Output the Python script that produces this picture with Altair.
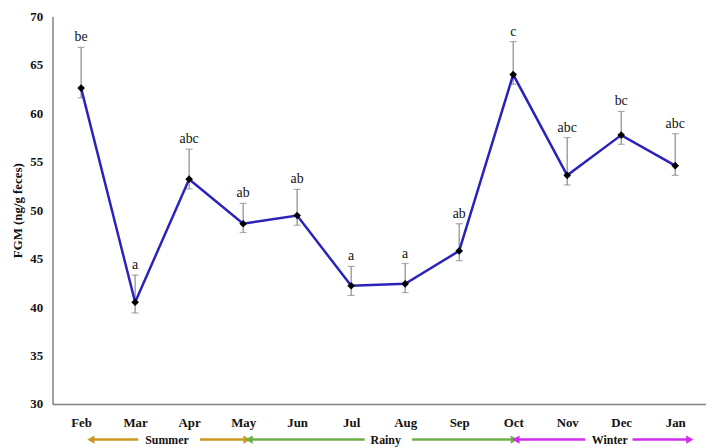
import altair as alt
import pandas as pd

months = ["Feb", "Mar", "Apr", "May", "Jun", "Jul", "Aug", "Sep", "Oct", "Nov", "Dec", "Jan"]
fgm_mean = [62.6, 40.5, 53.2, 48.6, 49.45, 42.2, 42.4, 45.8, 64.0, 53.6, 57.75, 54.6]
err_upper = [66.8, 43.3, 56.3, 50.7, 52.15, 44.2, 44.5, 48.6, 67.4, 57.5, 60.2, 57.9]
err_lower = [61.6, 39.4, 52.2, 47.7, 48.45, 41.2, 41.5, 44.8, 63.0, 52.6, 56.8, 53.6]
letters = ["be", "a", "abc", "ab", "ab", "a", "a", "ab", "c", "abc", "bc", "abc"]

# season annotations (positions in month-index units)
seasons = ["Summer", "Rainy", "Winter"]
season_colors = ["#C99A1E", "#6DB04A", "#D22CEE"]
season_start = [0.18, 3.11, 8.05]
season_text_pos = [1.59, 5.64, 9.79]
season_end = [3.07, 8.02, 11.27]
season_gap_left = [1.06, 5.25, 9.33]
season_gap_right = [2.20, 6.13, 10.21]

df = pd.DataFrame({
    "idx": list(range(len(months))),
    "month": months,
    "mean": fgm_mean,
    "upper": err_upper,
    "lower": err_lower,
    "letter": letters,
})

seg_rows = []
head_rows = []
for i, s in enumerate(seasons):
    seg_rows.append({"x": season_start[i], "x2": season_gap_left[i], "color": season_colors[i]})
    seg_rows.append({"x": season_gap_right[i], "x2": season_end[i], "color": season_colors[i]})
    head_rows.append({"x": season_start[i], "shape": "triangle-left", "color": season_colors[i]})
    head_rows.append({"x": season_end[i], "shape": "triangle-right", "color": season_colors[i]})
seg_df = pd.DataFrame(seg_rows)
head_df = pd.DataFrame(head_rows)
season_df = pd.DataFrame({"x": season_text_pos, "season": seasons})

W, H = 661, 392
FONT = "Liberation Serif"
ARROW_Y = H + 36

label_expr = "[" + ",".join("'%s'" % m for m in months) + "][datum.value]"

xscale = alt.Scale(domain=[-0.53, 11.57], nice=False, zero=False)
yscale = alt.Scale(domain=[30, 70], nice=False, zero=False)

x_axis = alt.Axis(values=list(range(len(months))), labelExpr=label_expr, ticks=False,
                  grid=False, domainColor="#808080", domainWidth=1.5, labelFont=FONT,
                  labelFontWeight="bold", labelFontSize=13, labelColor="#111111",
                  labelPadding=13, title=None)
y_axis = alt.Axis(values=list(range(30, 71, 5)), ticks=False, grid=False,
                  domainColor="#808080", domainWidth=1.5, labelFont=FONT,
                  labelFontWeight="bold", labelFontSize=13, labelColor="#111111",
                  labelPadding=10, title="FGM (ng/g feces)", titleFont=FONT,
                  titleFontWeight="bold", titleFontSize=13, titleColor="#111111",
                  titlePadding=5)

base = alt.Chart(df)

err = base.mark_rule(color="#8a8a8a", strokeWidth=1.2).encode(
    x=alt.X("idx:Q", scale=xscale, axis=x_axis),
    y=alt.Y("lower:Q", scale=yscale, axis=y_axis),
    y2="upper:Q",
)
cap_up = base.mark_tick(orient="horizontal", color="#8a8a8a", size=7, thickness=1.2).encode(
    x="idx:Q", y="upper:Q")
cap_lo = base.mark_tick(orient="horizontal", color="#8a8a8a", size=7, thickness=1.2).encode(
    x="idx:Q", y="lower:Q")
line = base.mark_line(color="#2B22BA", strokeWidth=2.5).encode(x="idx:Q", y="mean:Q")
pts = base.mark_point(shape="diamond", filled=True, color="#000000", size=60, opacity=1).encode(
    x="idx:Q", y="mean:Q")
txt = base.mark_text(baseline="bottom", dy=-3, font=FONT, fontSize=14, color="#111111").encode(
    x="idx:Q", y="upper:Q", text="letter:N")

segs = alt.Chart(seg_df).mark_rule(strokeWidth=2.5).encode(
    x="x:Q", x2="x2:Q", y=alt.value(ARROW_Y), color=alt.Color("color:N", scale=None))
heads = alt.Chart(head_df).mark_point(filled=True, size=70, opacity=1).encode(
    x="x:Q", y=alt.value(ARROW_Y), shape=alt.Shape("shape:N", scale=None),
    color=alt.Color("color:N", scale=None))
stxt = alt.Chart(season_df).mark_text(font=FONT, fontWeight="bold", fontSize=12,
                                      color="#111111", baseline="middle").encode(
    x="x:Q", y=alt.value(ARROW_Y), text="season:N")

chart = alt.layer(err, cap_up, cap_lo, line, pts, txt, segs, heads, stxt).properties(
    width=W, height=H,
    autosize=alt.AutoSizeParams(type="none"),
    padding={"left": 45, "top": 6, "right": 0, "bottom": 42},
).configure_view(stroke=None)

chart.save("out.html", embed_options={"renderer": "svg", "actions": False})
